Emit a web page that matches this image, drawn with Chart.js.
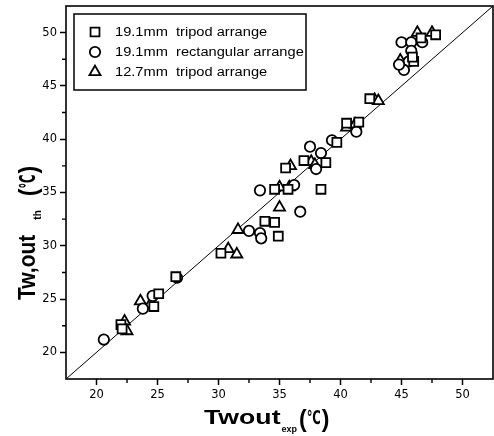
<!DOCTYPE html>
<html>
<head>
<meta charset="utf-8">
<script src="https://cdn.jsdelivr.net/npm/chart.js@4/dist/chart.umd.min.js"></script>
<style>
  html, body { margin: 0; padding: 0; background: #fff; }
</style>
</head>
<body>
<canvas id="chart" width="494" height="436"></canvas>
<script>
// Tw,out (th) against Twout (exp), both in degC

const seriesLabels = ["19.1mm  tripod arrange", "19.1mm  rectangular arrange", "12.7mm  tripod arrange"];

// 19.1mm tripod arrangement (squares)
const tripod191X = [22.0, 22.1, 24.7, 25.1, 26.5, 30.2, 33.8, 34.6, 34.9, 34.6, 35.7, 38.4, 35.5, 37.0, 38.8, 39.7, 40.5, 41.5, 42.4, 46.0, 45.9, 46.6, 47.8];
const tripod191Y = [22.6, 22.2, 24.3, 25.5, 27.1, 29.3, 32.3, 32.2, 30.9, 35.3, 35.3, 35.3, 37.3, 38.0, 37.8, 39.7, 41.5, 41.6, 43.8, 47.3, 47.7, 49.5, 49.8];

// 19.1mm rectangular arrangement (circles)
const rect191X = [20.6, 23.8, 24.6, 26.6, 32.5, 33.4, 33.5, 36.7, 33.4, 36.2, 37.5, 38.4, 38.0, 39.3, 41.3, 45.0, 45.8, 46.7, 45.8, 45.6, 45.2, 44.8];
const rect191Y = [21.2, 24.1, 25.3, 27.0, 31.4, 31.2, 30.7, 33.2, 35.2, 35.7, 39.3, 38.7, 37.2, 39.9, 40.7, 49.1, 49.1, 49.1, 48.3, 47.3, 46.5, 47.0];

// 12.7mm tripod arrangement (triangles)
const tripod127X = [22.3, 22.5, 23.6, 24.4, 30.8, 31.5, 31.6, 35.0, 35.0, 35.8, 35.9, 37.6, 37.9, 40.5, 41.2, 42.8, 43.1, 44.9, 46.3, 47.5];
const tripod127Y = [22.9, 22.0, 24.8, 24.5, 29.7, 29.2, 31.5, 33.6, 35.5, 35.5, 37.5, 37.9, 37.6, 41.1, 41.4, 43.7, 43.6, 47.4, 50.0, 50.0];

// y = x reference line, across the whole axis range
const diagonal = [17.5, 52.5];

const axisRange = [17.5, 52.5];
const majorTicks = [20, 25, 30, 35, 40, 45, 50];
const minorTicks = [22.5, 27.5, 32.5, 37.5, 42.5, 47.5];

const toPoints = (xs, ys) => xs.map((x, i) => ({ x, y: ys[i] }));

const markerStyles = [
  { pointStyle: "rect", radius: 6.3 },
  { pointStyle: "circle", radius: 5.2 },
  { pointStyle: "triangle", radius: 6.4 },
];

// scan text is stretched sideways, so squeeze it the same way
const TEXT_SX = 1.22;

function drawPart(ctx, text, x, y, font, sx) {
  ctx.font = font;
  const w = ctx.measureText(text).width;
  ctx.save();
  ctx.translate(x, y);
  ctx.scale(sx, 1);
  ctx.fillText(text, 0, 0);
  ctx.restore();
  return x + w * sx;
}

function drawFit(ctx, text, x, y, font, width) {
  ctx.font = font;
  const w = ctx.measureText(text).width;
  return drawPart(ctx, text, x, y, font, width / w);
}

function drawMarker(ctx, style, r, x, y) {
  ctx.beginPath();
  if (style === "rect") {
    const s = Math.SQRT1_2 * r;
    ctx.rect(x - s, y - s, 2 * s, 2 * s);
  } else if (style === "circle") {
    ctx.arc(x, y, r, 0, Math.PI * 2);
  } else {
    ctx.moveTo(x, y - r);
    ctx.lineTo(x + 0.866 * r, y + 0.5 * r);
    ctx.lineTo(x - 0.866 * r, y + 0.5 * r);
    ctx.closePath();
  }
  ctx.fill();
  ctx.stroke();
}

const framePlugin = {
  id: "frame",
  beforeDatasetsDraw(chart) {
    const { ctx, chartArea: a, scales } = chart;
    ctx.save();
    ctx.strokeStyle = "#000";
    ctx.lineWidth = 1.6;
    ctx.strokeRect(a.left, a.top, a.right - a.left, a.bottom - a.top);
    // minor ticks, half way between the labelled ones
    ctx.lineWidth = 1.4;
    ctx.beginPath();
    minorTicks.forEach((v) => {
      const px = scales.x.getPixelForValue(v);
      ctx.moveTo(px, a.bottom);
      ctx.lineTo(px, a.bottom + 4);
      const py = scales.y.getPixelForValue(v);
      ctx.moveTo(a.left, py);
      ctx.lineTo(a.left - 4, py);
    });
    ctx.stroke();
    ctx.restore();
  },
};

const boxLegendPlugin = {
  id: "boxLegend",
  afterDraw(chart) {
    const { ctx, chartArea: a } = chart;
    const left = a.left + 8;
    const top = a.top + 8;
    ctx.save();
    ctx.fillStyle = "#fff";
    ctx.strokeStyle = "#000";
    ctx.lineWidth = 1.5;
    ctx.fillRect(left, top, 232, 76);
    ctx.strokeRect(left, top, 232, 76);
    seriesLabels.forEach((label, i) => {
      const cy = top + 18 + i * 20;
      const m = markerStyles[i];
      ctx.fillStyle = "#fff";
      ctx.lineWidth = 1.8;
      drawMarker(ctx, m.pointStyle, m.radius, left + 21, cy);
      ctx.fillStyle = "#000";
      ctx.textBaseline = "middle";
      drawPart(ctx, label, left + 41, cy + 1, '12px "Liberation Sans"', TEXT_SX);
    });
    ctx.restore();
  },
};

const axisTitlePlugin = {
  id: "axisTitles",
  afterDraw(chart) {
    const { ctx, chartArea: a } = chart;
    ctx.save();
    ctx.fillStyle = "#000";
    ctx.textBaseline = "alphabetic";

    // x title: Twout_exp (℃)
    let x = a.left + 138;
    const base = a.bottom + 45;
    x = drawPart(ctx, "Twout", x, base, 'bold 21px "Liberation Sans"', 1.27);
    x = drawPart(ctx, "exp", x + 1, base + 8, 'bold 9px "Liberation Sans"', 1.0);
    x = drawPart(ctx, "(", x + 2, base + 3, 'bold 23px "Liberation Sans"', 1.0);
    x = drawFit(ctx, "℃", x, base, 'bold 19px "DejaVu Sans"', 14);
    drawPart(ctx, ")", x + 1, base + 3, 'bold 23px "Liberation Sans"', 1.0);

    // y title: Tw,out_th (℃), read from bottom to top
    ctx.translate(35, a.top + 294);
    ctx.rotate(-Math.PI / 2);
    ctx.scale(1, 1.15);
    let t = drawPart(ctx, "Tw,out", 0, 0, 'bold 21px "Liberation Sans"', 1.0);
    t = drawPart(ctx, "th", t + 15, 5, 'bold 10px "Liberation Sans"', 1.0);
    t = drawPart(ctx, "(", t + 14, 2, 'bold 23px "Liberation Sans"', 1.0);
    t = drawFit(ctx, "℃", t, 0, 'bold 19px "DejaVu Sans"', 14);
    drawPart(ctx, ")", t + 1, 2, 'bold 23px "Liberation Sans"', 1.0);
    ctx.restore();
  },
};

const axisOptions = (fit) => ({
  type: "linear",
  min: axisRange[0],
  max: axisRange[1],
  afterBuildTicks: (scale) => {
    scale.ticks = majorTicks.map((v) => ({ value: v }));
  },
  afterFit: (scale) => {
    // labels never reach the plot ends, so drop the edge padding chart.js reserves
    scale.paddingLeft = 0;
    scale.paddingRight = 0;
    scale.paddingTop = 0;
    scale.paddingBottom = 0;
    fit(scale);
  },
  border: { display: false },
  grid: {
    drawOnChartArea: false,
    drawTicks: true,
    tickLength: 6,
    tickWidth: 1.5,
    tickColor: "#000",
  },
  ticks: {
    color: "#000",
    padding: 3,
    autoSkip: false,
    maxRotation: 0,
    font: { family: "DejaVu Sans", size: 11.5 },
  },
});

new Chart(document.getElementById("chart"), {
  type: "scatter",
  data: {
    datasets: [
      ...[
        [tripod191X, tripod191Y],
        [rect191X, rect191Y],
        [tripod127X, tripod127Y],
      ].map(([xs, ys], i) => ({
        label: seriesLabels[i],
        data: toPoints(xs, ys),
        pointStyle: markerStyles[i].pointStyle,
        pointRadius: markerStyles[i].radius,
        pointBackgroundColor: "#fff",
        pointBorderColor: "#000",
        pointBorderWidth: 1.8,
        order: 1,
      })),
      {
        label: "y = x",
        data: toPoints(diagonal, diagonal),
        showLine: true,
        borderColor: "#000",
        borderWidth: 1,
        pointRadius: 0,
        order: 10,
      },
    ],
  },
  options: {
    responsive: false,
    animation: false,
    layout: { autoPadding: false, padding: { top: 6, right: 1, left: 0, bottom: 0 } },
    plugins: { legend: { display: false }, tooltip: { enabled: false } },
    scales: {
      x: axisOptions((s) => { s.height = 57; }),
      y: axisOptions((s) => { s.width = 66; }),
    },
  },
  plugins: [framePlugin, boxLegendPlugin, axisTitlePlugin],
});
</script>
</body>
</html>
